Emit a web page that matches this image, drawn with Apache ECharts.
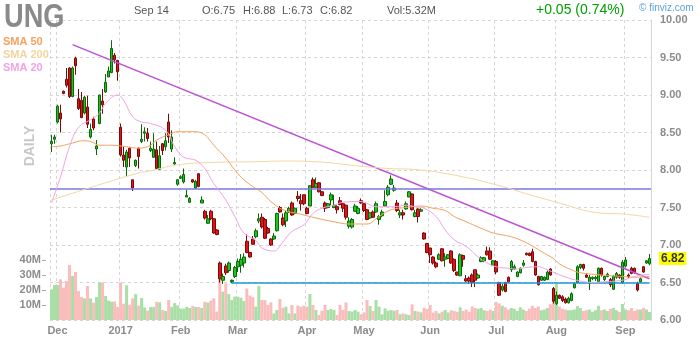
<!DOCTYPE html>
<html><head><meta charset="utf-8">
<script src="https://cdn.jsdelivr.net/npm/echarts@6/dist/echarts.min.js"></script>
<style>html,body{margin:0;padding:0;background:#fff}#c{width:700px;height:340px}</style>
</head><body><div id="c"></div>
<script>
// ---- categories: trading days 2016-11-29 .. 2017-09-14 ----
const holidays = ['2016-11-24','2016-12-26','2017-01-02','2017-01-16','2017-02-20','2017-04-14','2017-05-29','2017-07-04','2017-09-04'];
const dates = [];
for (let t = Date.UTC(2016,10,29); t <= Date.UTC(2017,8,14); t += 86400000) {
  const d = new Date(t), wd = d.getUTCDay(), s = d.toISOString().slice(0,10);
  if (wd === 0 || wd === 6 || holidays.includes(s)) continue;
  dates.push(s);
}
const monthTickLabels = ['Dec','2017','Feb','Mar','Apr','May','Jun','Jul','Aug','Sep'];
const priceTicks = [6,6.5,7,7.5,8,8.5,9,9.5,10];
const volumeTicks = [10,20,30,40];

// ---- OHLC ----
const open = [8.35,8.41,8.64,8.76,9.05,9.21,9.36,8.98,9.49,8.95,8.93,8.76,8.84,8.44,8.68,8.28,8.62,8.92,9.04,9.24,
9.30,9.53,9.46,8.57,8.20,8.04,8.29,7.87,8.06,8.29,8.38,8.49,8.49,8.26,8.17,8.27,8.01,8.35,8.31,8.64,
8.28,8.08,7.81,7.89,7.84,7.64,7.57,7.87,7.76,7.95,7.56,7.45,7.29,7.45,7.35,7.20,6.76,6.53,6.72,6.66,
6.51,6.58,6.71,6.73,6.76,7.05,6.90,7.08,7.11,7.32,7.37,7.34,7.22,7.08,7.08,7.19,7.50,7.36,7.32,7.44,
7.56,7.42,7.65,7.59,7.67,7.49,7.52,7.87,7.77,7.83,7.71,7.56,7.50,7.60,7.50,7.51,7.59,7.55,7.53,7.25,
7.24,7.45,7.42,7.59,7.55,7.47,7.36,7.44,7.44,7.34,7.39,7.52,7.67,7.81,7.73,7.56,7.40,7.43,7.48,7.64,
7.68,7.38,7.48,7.45,7.16,7.02,6.96,6.84,6.76,6.81,6.95,6.81,6.82,6.92,6.81,6.64,6.59,6.86,6.55,6.56,
6.60,6.67,6.56,6.78,6.79,6.92,6.92,6.73,6.78,6.50,6.40,6.50,6.57,6.67,6.68,6.58,6.63,6.73,6.89,6.89,
6.91,6.78,6.58,6.53,6.53,6.54,6.68,6.42,6.22,6.33,6.31,6.28,6.23,6.26,6.43,6.50,6.70,6.74,6.60,6.49,
6.55,6.55,6.51,6.69,6.54,6.58,6.54,6.41,6.57,6.60,6.50,6.72,6.60,6.69,6.69,6.49,6.51,6.71,6.76,6.75];
const high = [8.47,8.47,8.87,8.87,9.06,9.36,9.37,9.38,9.51,9.08,9.04,8.99,8.99,8.62,8.71,8.40,9.00,9.08,9.28,9.38,
9.73,9.56,9.47,8.62,8.31,8.27,8.30,7.87,8.14,8.30,8.61,8.57,8.56,8.38,8.49,8.38,8.32,8.36,8.49,8.75,
8.53,8.17,7.88,7.93,8.02,7.74,7.64,7.88,7.87,7.96,7.65,7.47,7.40,7.47,7.36,7.21,6.78,6.62,6.75,6.78,
6.54,6.72,6.82,6.88,6.89,7.14,6.91,7.12,7.22,7.42,7.42,7.36,7.24,7.09,7.16,7.43,7.52,7.42,7.46,7.51,
7.58,7.50,7.72,7.68,7.67,7.51,7.80,7.90,7.90,7.84,7.72,7.58,7.56,7.70,7.67,7.53,7.64,7.56,7.54,7.37,
7.36,7.55,7.52,7.62,7.56,7.48,7.44,7.46,7.58,7.40,7.47,7.73,7.80,7.93,7.80,7.60,7.47,7.47,7.58,7.72,
7.69,7.47,7.49,7.49,7.17,7.03,6.96,6.85,6.78,6.89,6.96,6.89,6.88,6.93,6.82,6.64,6.89,6.87,6.60,6.58,
6.62,6.67,6.62,6.85,6.84,6.98,6.97,6.80,6.80,6.51,6.48,6.51,6.58,6.80,6.74,6.65,6.70,6.80,6.90,6.90,
6.95,6.79,6.59,6.58,6.58,6.66,6.69,6.44,6.38,6.34,6.33,6.30,6.31,6.37,6.50,6.73,6.75,6.75,6.62,6.60,
6.58,6.59,6.70,6.70,6.59,6.63,6.56,6.60,6.64,6.61,6.80,6.84,6.62,6.71,6.70,6.51,6.57,6.72,6.80,6.88];
const low = [8.24,8.35,8.62,8.50,9.01,9.10,8.96,8.97,9.27,8.80,8.69,8.74,8.56,8.42,8.53,8.20,8.61,8.75,9.03,9.24,
9.29,9.42,9.19,8.18,8.04,7.91,8.04,7.72,8.04,8.02,8.36,8.38,8.38,8.24,8.16,8.01,8.00,8.20,8.26,8.36,
8.24,8.07,7.79,7.88,7.82,7.64,7.56,7.83,7.75,7.77,7.56,7.34,7.28,7.33,7.15,7.13,6.50,6.48,6.60,6.63,
6.49,6.56,6.64,6.63,6.70,6.89,6.83,7.00,7.09,7.29,7.22,7.08,7.15,6.99,7.07,7.18,7.43,7.25,7.24,7.43,
7.39,7.41,7.58,7.46,7.53,7.41,7.52,7.76,7.76,7.70,7.65,7.44,7.49,7.53,7.49,7.42,7.53,7.44,7.34,7.22,
7.22,7.44,7.41,7.55,7.44,7.33,7.35,7.36,7.43,7.27,7.37,7.51,7.65,7.80,7.71,7.44,7.36,7.34,7.47,7.64,
7.46,7.37,7.30,7.44,7.07,6.89,6.76,6.74,6.69,6.80,6.78,6.71,6.81,6.75,6.64,6.59,6.59,6.71,6.51,6.48,
6.44,6.44,6.55,6.77,6.77,6.86,6.80,6.72,6.61,6.32,6.38,6.37,6.50,6.64,6.67,6.57,6.62,6.71,6.86,6.85,
6.77,6.59,6.46,6.52,6.52,6.53,6.59,6.22,6.20,6.28,6.24,6.22,6.22,6.25,6.42,6.49,6.68,6.66,6.56,6.40,
6.53,6.52,6.50,6.58,6.52,6.57,6.44,6.40,6.55,6.55,6.48,6.70,6.56,6.61,6.62,6.38,6.50,6.63,6.75,6.73];
const close = [8.38,8.44,8.85,8.68,9.02,9.13,8.98,9.36,9.39,8.82,8.70,8.97,8.61,8.54,8.56,8.32,9.00,8.87,9.17,9.32,
9.62,9.47,9.31,8.20,8.13,8.24,8.16,7.76,8.13,8.18,8.41,8.51,8.42,8.29,8.28,8.02,8.19,8.26,8.39,8.44,
8.44,8.10,7.87,7.91,7.94,7.66,7.62,7.84,7.85,7.78,7.60,7.36,7.35,7.35,7.16,7.14,6.55,6.58,6.63,6.76,
6.53,6.70,6.78,6.81,6.84,6.90,6.84,7.01,7.19,7.35,7.24,7.09,7.16,7.00,7.12,7.42,7.44,7.27,7.43,7.49,
7.40,7.49,7.62,7.55,7.55,7.42,7.79,7.77,7.82,7.71,7.66,7.49,7.55,7.67,7.53,7.47,7.54,7.49,7.37,7.32,
7.34,7.52,7.49,7.56,7.46,7.34,7.43,7.37,7.55,7.38,7.44,7.58,7.77,7.88,7.76,7.46,7.43,7.40,7.55,7.71,
7.47,7.43,7.38,7.47,7.08,6.90,6.87,6.76,6.71,6.87,6.79,6.84,6.87,6.76,6.66,6.60,6.87,6.81,6.52,6.52,
6.50,6.53,6.60,6.83,6.83,6.87,6.81,6.79,6.64,6.33,6.45,6.38,6.51,6.78,6.71,6.64,6.69,6.76,6.87,6.86,
6.78,6.60,6.47,6.58,6.57,6.64,6.60,6.25,6.33,6.29,6.26,6.23,6.29,6.35,6.48,6.71,6.74,6.69,6.57,6.57,
6.57,6.57,6.69,6.60,6.58,6.61,6.47,6.58,6.62,6.57,6.77,6.80,6.58,6.62,6.63,6.40,6.55,6.64,6.79,6.82];
// volume, millions
const volume = [20.4,23.3,23.3,27.1,21.6,26.0,36.7,29.3,32.0,19.3,15.3,14.4,22.7,14.4,11.6,15.3,25.1,25.1,16.0,12.9,
12.2,12.4,8.7,25.1,10.9,23.1,10.2,14.4,17.3,9.6,14.7,8.4,6.2,8.7,8.7,12.2,11.8,6.7,6.0,13.3,
8.7,11.3,9.8,7.6,7.6,8.7,8.0,9.3,8.7,8.7,8.0,12.2,11.6,12.9,14.4,5.6,31.8,18.9,24.4,17.3,
13.3,15.6,15.6,14.9,12.7,21.0,16.3,15.3,8.9,22.7,13.3,13.3,10.0,11.8,4.4,6.7,14.0,8.2,8.9,4.4,
10.0,4.4,9.6,8.9,9.6,8.9,17.3,10.0,6.7,3.3,6.2,10.0,6.7,7.3,6.7,3.3,10.0,6.7,11.8,6.0,
5.6,6.7,5.6,3.8,5.1,13.3,9.3,6.0,13.3,8.9,3.8,7.8,6.2,6.7,6.2,6.7,3.8,4.4,3.8,3.3,
10.4,6.0,5.6,5.1,8.2,7.3,10.0,4.9,6.0,4.4,5.6,6.7,5.0,6.5,6.0,5.5,8.5,6.0,7.0,5.5,
9.0,8.0,7.5,8.0,6.5,6.0,7.0,6.0,12.0,11.0,9.5,8.5,7.0,8.0,7.5,6.0,8.5,7.0,6.0,7.5,
9.5,8.0,9.0,6.5,7.0,8.0,10.5,12.5,24.4,9.0,7.5,7.0,6.5,6.5,7.0,9.3,8.0,6.0,6.5,7.0,
5.5,6.5,9.5,6.5,7.0,6.0,7.5,8.0,6.5,5.5,10.7,7.0,6.5,8.0,6.0,7.0,7.0,8.0,7.0,5.32];

// moving averages: [day index, value]
const sma20 = [[0,7.56],[3,7.91],[6,8.31],[9,8.57],[13,8.67],[16,8.76],[18,8.89],[22,9.00],[24,8.93],[27,8.71],[30,8.64],[33,8.62],[38,8.53],[41,8.31],[44,8.17],[48,8.13],[51,8.02],[54,7.82],[58,7.60],[61,7.38],[64,7.16],[68,7.06],[70,6.96],[74,6.92],[77,7.04],[80,7.18],[84,7.27],[87,7.42],[90,7.49],[94,7.53],[97,7.57],[103,7.58],[108,7.51],[114,7.51],[118,7.53],[121,7.51],[124,7.49],[128,7.38],[131,7.20],[134,7.07],[138,6.98],[142,6.84],[145,6.76],[148,6.71],[152,6.69],[155,6.68],[158,6.70],[162,6.71],[165,6.67],[168,6.62],[172,6.56],[176,6.52],[180,6.50],[184,6.51],[190,6.53],[194,6.58],[199,6.61]];
const sma50 = [[0,8.31],[3,8.32],[7,8.36],[10,8.39],[13,8.38],[16,8.33],[20,8.33],[25,8.31],[29,8.29],[33,8.33],[35,8.40],[39,8.47],[42,8.51],[48,8.51],[51,8.47],[54,8.33],[58,8.16],[61,8.00],[64,7.87],[67,7.78],[70,7.70],[73,7.58],[77,7.47],[83,7.41],[88,7.36],[94,7.31],[99,7.28],[105,7.28],[109,7.38],[113,7.47],[118,7.50],[123,7.52],[127,7.49],[131,7.46],[134,7.38],[138,7.31],[142,7.24],[147,7.16],[153,7.11],[158,7.03],[164,6.89],[167,6.82],[169,6.75],[173,6.67],[176,6.63],[183,6.60],[190,6.58],[194,6.57],[199,6.58]];
const sma200 = [[0,7.60],[7,7.69],[18,7.83],[29,7.96],[33,7.99],[42,8.07],[53,8.10],[68,8.11],[77,8.12],[88,8.11],[103,8.05],[112,8.02],[123,8.00],[138,7.90],[150,7.78],[160,7.66],[169,7.56],[180,7.44],[191,7.41],[199,7.37]];

// drawn trendlines: [day index, price]
const trendLine = [[7,9.672],[199,6.55]];
const resistanceLevel = 7.755;
const supportLine = [[60,6.50],[199,6.50]];
const lastClose = 6.82;

// ---- build ----
const ohlc = dates.map((d,i)=>[open[i], close[i], low[i], high[i]]);
const isMonthStart = dates.map((d,i)=> i>0 && d.slice(0,7) !== dates[i-1].slice(0,7));
const labelFor = {}; let m = 0;
dates.forEach((d,i)=>{ if (isMonthStart[i]) labelFor[i] = monthTickLabels[m++]; });
const volData = volume.map((v,i)=>({value:v, itemStyle:{color: close[i] >= open[i] ? '#a9dea6' : '#fbbcbc'}}));

const grey = '#8c8c8c';
const FONT = 'Arial, "Liberation Sans", sans-serif';
const gridLine = {show:true, lineStyle:{color:'#d6d6d6', type:[3,3], width:1}};
const chart = echarts.init(document.getElementById('c'), null, {renderer:'canvas'});

function txt(x, y, text, font, fill, align) {
  return {type:'text', x:x, y:y, silent:true, z:50,
    style:{text:text, font:font, fill:fill, align:align||'left', textAlign:align||'left', verticalAlign:'middle', textVerticalAlign:'middle'}};
}

chart.setOption({
  animation:false,
  backgroundColor:'#ffffff',
  grid:[
    {left:50, right:49, top:20, bottom:20},
    {left:50, right:49, top:260, bottom:20}
  ],
  xAxis:[
    {type:'category', data:dates, gridIndex:0, boundaryGap:true,
     axisLine:{show:false}, axisTick:{show:false},
     axisLabel:{show:true, interval:(i)=>isMonthStart[i], formatter:(v,i)=>labelFor[i]||'',
       color:grey, fontSize:11, fontWeight:'bold', fontFamily:FONT, margin:5},
     splitLine:{show:true, interval:(i)=>i===0||isMonthStart[i], lineStyle:{color:'#d6d6d6', type:[3,3], width:1}}},
    {type:'category', data:dates, gridIndex:1, boundaryGap:true, show:false}
  ],
  yAxis:[
    {type:'value', gridIndex:0, position:'right', min:6, max:10, interval:0.5,
     axisLine:{show:true, lineStyle:{color:'#d6d6d6', type:[3,3]}}, axisTick:{show:false},
     axisLabel:{formatter:(v)=>v.toFixed(2), color:grey, fontSize:11, fontWeight:'bold', fontFamily:FONT, margin:9},
     splitLine:gridLine},
    {type:'value', gridIndex:1, position:'left', min:0, max:40, interval:10, offset:4,
     axisLine:{show:false}, splitLine:{show:false},
     axisTick:{show:true, length:4, customValues:volumeTicks, lineStyle:{color:'#aaa'}},
     axisLabel:{customValues:volumeTicks, formatter:(v)=> v>0 ? v+'M' : '', color:grey, fontSize:11, fontWeight:'bold', fontFamily:FONT, margin:5}}
  ],
  series:[
    {type:'bar', name:'Volume', xAxisIndex:1, yAxisIndex:1, data:volData, barCategoryGap:'0%', barGap:'0%', z:1, silent:true},
    {type:'candlestick', name:'UNG', xAxisIndex:0, yAxisIndex:0, data:ohlc, barWidth:3, z:4,
     itemStyle:{color:'#1fc21f', color0:'#d81818', borderColor:'#0a6a0a', borderColor0:'#7c0808', borderWidth:1},
     markLine:{silent:true, symbol:['none','none'], animation:false, label:{show:false},
       data:[
         [{coord:trendLine[0], lineStyle:{color:'#bd4fd6', width:1.5, type:'solid'}}, {coord:trendLine[1]}],
         {yAxis:resistanceLevel, lineStyle:{color:'#7878e0', width:1.5, type:'solid'}},
         [{coord:supportLine[0], lineStyle:{color:'#1b94d9', width:1.5, type:'solid'}}, {coord:supportLine[1]}],
         {yAxis:lastClose, lineStyle:{color:'rgba(0,0,0,0)', width:1, type:'solid'},
          label:{show:true, position:'end', distance:8, formatter:lastClose.toFixed(2),
           backgroundColor:'#ffff00', color:'#333', fontSize:12, fontWeight:'bold', padding:[1,2,0,2], fontFamily:FONT}}
       ]}},
    {type:'line', name:'SMA 200', data:sma200, smooth:0.4, showSymbol:false, lineStyle:{color:'#f4d6a4', width:1}, z:5, silent:true},
    {type:'line', name:'SMA 50', data:sma50, smooth:0.4, showSymbol:false, lineStyle:{color:'#f6a15c', width:1}, z:5, silent:true},
    {type:'line', name:'SMA 20', data:sma20, smooth:0.4, showSymbol:false, lineStyle:{color:'#f2a2e6', width:1}, z:5, silent:true}
  ],
  graphic:[
    {type:'text', x:4, y:18, scaleX:0.8, silent:true, z:50,
     style:{text:'UNG', x:0, y:0, font:'bold 34px ' + FONT, fill:'#8a8a8a', align:'left', textAlign:'left', verticalAlign:'middle', textVerticalAlign:'middle'}},
    txt(3, 42, 'SMA 50', 'bold 11px ' + FONT, '#f6a15c'),
    txt(3, 55, 'SMA 200', 'bold 11px ' + FONT, '#f2d49f'),
    txt(3, 68, 'SMA 20', 'bold 11px ' + FONT, '#f2a2e6'),
    {type:'text', x:30, y:146, rotation:Math.PI/2, silent:true, z:50,
     style:{text:'DAILY', x:0, y:0, font:'bold 14px ' + FONT, fill:'#c8c8c8', align:'center', textAlign:'center', verticalAlign:'middle', textVerticalAlign:'middle'}},
    txt(134, 11, 'Sep 14', '11px ' + FONT, '#555'),
    txt(202, 11, 'O:6.75', '11px ' + FONT, '#555'),
    txt(243, 11, 'H:6.88', '11px ' + FONT, '#555'),
    txt(282, 11, 'L:6.73', '11px ' + FONT, '#555'),
    txt(320, 11, 'C:6.82', '11px ' + FONT, '#555'),
    txt(387, 11, 'Vol:5.32M', '11px ' + FONT, '#555'),
    txt(536, 10, '+0.05 (0.74%)', '14px ' + FONT, '#00a000'),
    txt(639, 8, '© finviz.com', '10px ' + FONT, '#5aa2dc')
  ]
});
</script></body></html>
